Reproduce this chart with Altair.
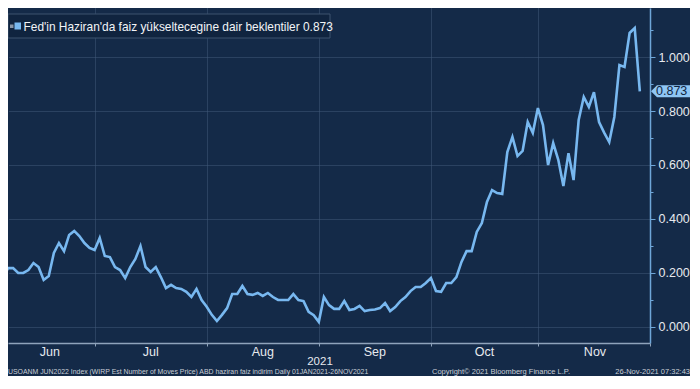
import altair as alt
import pandas as pd

# ---- data (one point per trading day, 7 Jun 2021 .. 26 Nov 2021) ----
day_index = list(range(126))
values = [
    0.181, 0.218, 0.218, 0.200, 0.200, 0.211, 0.237, 0.222, 0.174, 0.189,
    0.274, 0.311, 0.281, 0.341, 0.356, 0.337, 0.311, 0.293, 0.285, 0.330,
    0.263, 0.259, 0.222, 0.211, 0.181, 0.222, 0.252, 0.300, 0.222, 0.204,
    0.222, 0.185, 0.144, 0.156, 0.144, 0.141, 0.130, 0.111, 0.141, 0.100,
    0.075, 0.045, 0.022, 0.045, 0.070, 0.122, 0.122, 0.152, 0.122, 0.119,
    0.126, 0.115, 0.126, 0.111, 0.100, 0.100, 0.100, 0.122, 0.100, 0.096,
    0.056, 0.044, 0.019, 0.111, 0.081, 0.067, 0.067, 0.096, 0.063, 0.067,
    0.078, 0.059, 0.063, 0.065, 0.070, 0.089, 0.059, 0.074, 0.096, 0.111,
    0.133, 0.148, 0.148, 0.163, 0.181, 0.133, 0.130, 0.163, 0.163, 0.185,
    0.241, 0.281, 0.281, 0.352, 0.385, 0.463, 0.507, 0.496, 0.493, 0.648,
    0.704, 0.633, 0.652, 0.759, 0.719, 0.811, 0.748, 0.600, 0.681, 0.619,
    0.522, 0.644, 0.544, 0.767, 0.852, 0.815, 0.870, 0.759, 0.720, 0.685,
    0.778, 0.970, 0.963, 1.089, 1.107, 0.873,
]
month_names = ["Jun", "Jul", "Aug", "Sep", "Oct", "Nov"]
month_label_pos = [9.2, 29, 51, 73, 94.5, 116.2]
month_starts = [18, 40, 62, 84, 105, 127]
y_tick_values = [0.0, 0.1, 0.2, 0.3, 0.4, 0.5, 0.6, 0.7, 0.8, 0.9, 1.0, 1.1]
year_label = "2021"
legend_label = "Fed'in Haziran'da faiz yükseltecegine dair beklentiler 0.873"
foot_left = "USOANM JUN2022 Index (WIRP Est Number of Moves Price) ABD haziran faiz indirim  Daily 01JAN2021-26NOV2021"
foot_mid = "Copyright\u00a9 2021 Bloomberg Finance L.P."
foot_right = "26-Nov-2021 07:32:43"

BG = "#142a48"
LINE = "#78b8f0"
GRID = "#425b7b"
TXT = "#e6e9ee"
FONT = "Liberation Sans"
W, H = 642, 335

df = pd.DataFrame({"day": day_index, "value": values})
last_df = pd.DataFrame({"day": [day_index[-1]], "value": [values[-1]],
                        "label": [f"{values[-1]:.3f}"]})
months_df = pd.DataFrame({"day": month_label_pos, "month": month_names})
one = pd.DataFrame({"k": [0]})

x_scale = alt.Scale(domain=[1, 127], nice=False, zero=False)
y_scale = alt.Scale(domain=[-0.0593, 1.1815], nice=False, zero=False)

major = "round(datum.value*10) % 2 == 0"

x_axis = alt.Axis(
    values=month_starts, labels=False, title=None, grid=True,
    gridColor=GRID, gridDash=[1, 1], gridWidth=1,
    ticks=True, tickSize=3, tickColor="#8fa3bb",
    domainColor="#8fa3bb", domainWidth=1.5)
y_axis = alt.Axis(
    orient="right", values=y_tick_values, title=None,
    labelExpr=f"{major} ? format(datum.value, '.3f') : ''",
    labelFont=FONT, labelFontSize=12.5, labelColor=TXT, labelPadding=3,
    grid=True, gridColor=GRID, gridDash=[1, 1], gridWidth=1,
    gridOpacity={"condition": {"test": major, "value": 1}, "value": 0},
    tickColor="#6fa6d8",
    tickSize={"condition": {"test": major, "value": 5}, "value": 3},
    domainColor="#6fa6d8", domainWidth=1.5)

X = alt.X("day:Q", scale=x_scale, axis=x_axis)
Y = alt.Y("value:Q", scale=y_scale, axis=y_axis)

line = alt.Chart(df).mark_line(color=LINE, strokeWidth=2.6, clip=True).encode(x=X, y=Y)

legend_box = alt.Chart(one).mark_rect(fill="#10243f", stroke="#3d526e", strokeWidth=1).encode(
    x=alt.value(0), x2=alt.value(322), y=alt.value(6), y2=alt.value(30))
legend_gray = alt.Chart(one).mark_rect(fill="#8a97a8").encode(
    x=alt.value(2), x2=alt.value(5.5), y=alt.value(16.5), y2=alt.value(20))
legend_blue = alt.Chart(one).mark_rect(fill=LINE).encode(
    x=alt.value(6.5), x2=alt.value(13), y=alt.value(14.5), y2=alt.value(21.5))
legend_text = alt.Chart(pd.DataFrame({"t": [legend_label]})).mark_text(
    font=FONT, fontSize=11.9, color="#f2f4f7", align="left", baseline="middle").encode(
    x=alt.value(15.5), y=alt.value(18.5), text="t:N")

callout = alt.Chart(last_df).mark_point(
    shape="M 0 0 L 1 -1 L 6.6 -1 L 6.6 1 L 1 1 Z", size=144,
    filled=True, fill="#8fc6f4", opacity=1, strokeWidth=0).encode(
    x=alt.value(643), y=Y)
callout_text = alt.Chart(last_df).mark_text(
    font=FONT, fontSize=12.5, color="#10243f", align="left", baseline="middle").encode(
    x=alt.value(648), y=Y, text="label:N")

month_text = alt.Chart(months_df).mark_text(
    font=FONT, fontSize=12.5, color=TXT, baseline="middle").encode(
    x=X, y=alt.value(H + 9), text="month:N")

year_text = alt.Chart(pd.DataFrame({"t": [year_label]})).mark_text(
    font=FONT, fontSize=11.5, color=TXT, baseline="middle").encode(
    x=alt.value(312), y=alt.value(H + 19), text="t:N")

foot_style = dict(font=FONT, fontSize=6.9, color="#c9ced6", baseline="middle")
f1 = alt.Chart(pd.DataFrame({"t": [foot_left]})).mark_text(align="left", **foot_style).encode(
    x=alt.value(0), y=alt.value(H + 29), text="t:N")
f2 = alt.Chart(pd.DataFrame({"t": [foot_mid]})).mark_text(
    align="left", **{**foot_style, "fontSize": 7.5}).encode(
    x=alt.value(424), y=alt.value(H + 29), text="t:N")
f3 = alt.Chart(pd.DataFrame({"t": [foot_right]})).mark_text(
    align="right", **{**foot_style, "fontSize": 7.5}).encode(
    x=alt.value(682), y=alt.value(H + 29), text="t:N")

chart = alt.layer(
    line, legend_box, legend_gray, legend_blue, legend_text,
    callout, callout_text, month_text, year_text, f1, f2, f3,
).properties(
    width=W, height=H, background=BG,
    autosize=alt.AutoSizeParams(type="none"),
    padding={"left": 0, "top": 0, "right": 682 - W, "bottom": 368 - H},
).configure_view(stroke=None)

chart.save("out.html", embed_options={"renderer": "svg", "actions": False})
